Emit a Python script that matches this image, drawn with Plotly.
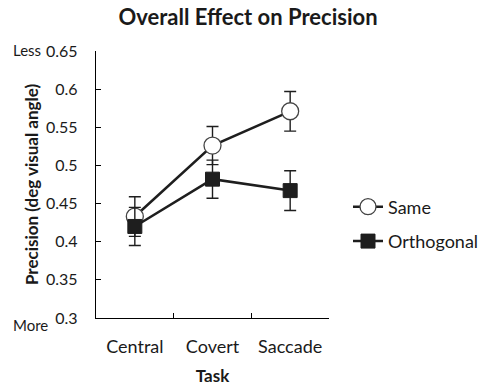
import plotly.graph_objects as go

tasks = ["Central", "Covert", "Saccade"]
same_vals = [0.433, 0.526, 0.571]
same_err = [0.026, 0.025, 0.026]
orth_vals = [0.420, 0.482, 0.467]
orth_err = [0.025, 0.025, 0.026]
y_ticks = [0.3, 0.35, 0.4, 0.45, 0.5, 0.55, 0.6, 0.65]
y_ticklabels = ["0.3", "0.35", "0.4", "0.45", "0.5", "0.55", "0.6", "0.65"]

FONT = "Lato"
DARK = "#1e1e1e"
L, R, T, B = 96, 329, 51, 318
W, H = 482, 390
PW, PH = R - L, B - T

fig = go.Figure()
fig.add_trace(go.Scatter(
    x=tasks, y=same_vals, name="Same", mode="lines+markers", legendgroup="s", legendrank=1,
    line=dict(color=DARK, width=2.5),
    marker=dict(symbol="circle", size=17, color="white", line=dict(color="#444444", width=1.3)),
    error_y=dict(type="data", array=same_err, visible=True, color=DARK, thickness=1.4, width=6),
))
fig.add_trace(go.Scatter(
    x=tasks, y=orth_vals, name="Orthogonal", mode="lines+markers", legendgroup="o", legendrank=2,
    line=dict(color=DARK, width=2.5),
    marker=dict(symbol="square", size=14, color=DARK, line=dict(color=DARK, width=1)),
    error_y=dict(type="data", array=orth_err, visible=True, color=DARK, thickness=1.4, width=6),
))

fig.update_layout(
    width=W, height=H,
    margin=dict(l=L, r=W - R, t=T, b=H - B, autoexpand=False),
    paper_bgcolor="white", plot_bgcolor="white",
    font=dict(family=FONT, size=16, color="#1a1a1a"),
    title=dict(text="<b>Overall Effect on Precision</b>", x=248 / W, xanchor="center",
               y=1 - 17 / H, yanchor="middle", font=dict(size=22, family=FONT)),
    showlegend=True,
    legend=dict(xref="container", yref="container", x=348 / W, y=1 - 224 / H,
                xanchor="left", yanchor="middle",
                traceorder="grouped", font=dict(size=18, family=FONT),
                bgcolor="rgba(0,0,0,0)", tracegroupgap=8, itemwidth=30, borderwidth=0),
    xaxis=dict(
        type="category", range=[-0.5, 2.5], tickson="boundaries", ticks="inside", ticklen=5,
        tickcolor="black", showline=True, linecolor="black", linewidth=1.3, showgrid=False,
        zeroline=False, tickfont=dict(size=18), ticklabelstandoff=12, tickangle=0,
        automargin=False,
        title=dict(text="<b>Task</b>", font=dict(size=17), standoff=14),
    ),
    yaxis=dict(
        range=[0.3, 0.65], tickvals=y_ticks, ticktext=y_ticklabels, ticks="inside", ticklen=5,
        tickcolor="black", showline=True, linecolor="black", linewidth=1.3, showgrid=False,
        zeroline=False, tickfont=dict(size=16), ticklabelstandoff=14, automargin=False,
        title=dict(text="<b>Precision (deg visual angle)</b>", font=dict(size=17), standoff=3),
    ),
)

fig.add_annotation(text="Less", xref="x domain", yref="y domain", x=(11 - L) / PW, y=(B - 50) / PH,
                   showarrow=False, font=dict(size=15, family=FONT), xanchor="left", yanchor="middle")
fig.add_annotation(text="More", xref="x domain", yref="y domain", x=(11 - L) / PW, y=(B - 325) / PH,
                   showarrow=False, font=dict(size=15, family=FONT), xanchor="left", yanchor="middle")

fig.write_html("out.html")
